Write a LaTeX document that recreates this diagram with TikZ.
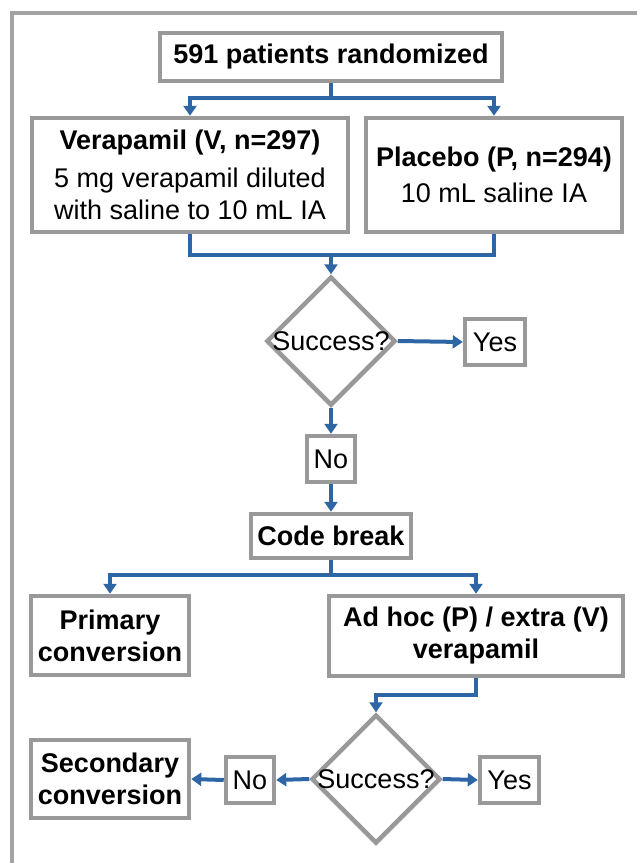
\documentclass[tikz,border=0pt]{standalone}
\usepackage{fontspec}
\setmainfont{Liberation Sans}
\usepackage{tikz}
\usetikzlibrary{shapes.geometric,arrows.meta}
\definecolor{boxgray}{RGB}{153,153,153}
\definecolor{framegray}{RGB}{163,163,163}
\definecolor{flowblue}{RGB}{46,101,165}

\begin{document}
\begin{tikzpicture}[x=1pt,y=-1pt,
		every node/.style={font=\fontsize{27}{32}\selectfont},
		box/.style={draw=boxgray, line width=4.5pt, fill=white, inner sep=0pt, align=center},
		decision/.style={draw=boxgray, line width=4.5pt, diamond, aspect=1, inner sep=0pt, minimum width=129pt, minimum height=129pt},
		link/.style={draw=flowblue, line width=4pt},
		arrow/.style={link, -{Triangle[length=10pt,width=13pt]}}]
			\useasboundingbox (0,0) rectangle (637,863);
			\clip (0,0) rectangle (637,863);
			\draw[framegray, line width=3.5pt] (12,880) -- (12,13) -- (660,13);
			\node[box, minimum width=342pt, minimum height=48pt] (rand) at (331,57) {\textbf{591 patients randomized}};
			\node[box, minimum width=316pt, minimum height=114pt] (verap) at (190,175) {\textbf{Verapamil (V, n=297)}\\[6pt]5 mg verapamil diluted\\with saline to 10 mL IA};
			\node[box, minimum width=256pt, minimum height=114pt] (placebo) at (494,175) {\textbf{Placebo (P, n=294)}\\[4pt]10 mL saline IA};
			\node[decision, label=center:{Success?}] (dia1) at (331,341) {};
			\node[box, minimum width=60pt, minimum height=46pt] (yes1) at (495,342) {Yes};
			\node[box, minimum width=48pt, minimum height=46pt] (no1) at (331,459) {No};
			\node[box, minimum width=160pt, minimum height=44pt] (codebreak) at (331,536) {\textbf{Code break}};
			\node[box, minimum width=158pt, minimum height=79pt] (primary) at (110,635.5) {\textbf{Primary}\\\textbf{conversion}};
			\node[box, minimum width=294pt, minimum height=80pt] (adhoc) at (476,636) {\textbf{Ad hoc (P) / extra (V)}\\\textbf{verapamil}};
			\node[decision, label=center:{Success?}] (dia2) at (376,779) {};
			\node[box, minimum width=59pt, minimum height=46pt] (yes2) at (509.5,780) {Yes};
			\node[box, minimum width=48pt, minimum height=46pt] (no2) at (250,780) {No};
			\node[box, minimum width=158pt, minimum height=78pt] (secondary) at (110,779) {\textbf{Secondary}\\\textbf{conversion}};
			\coordinate (split) at (331,98);
			\coordinate (merge) at (331,255);
			\coordinate (split2) at (331,575);
			\draw[link] (rand.south) -- (split);
			\draw[arrow] (split) -| (verap.north);
			\draw[arrow] (split) -| (placebo.north);
			\draw[link] (verap.south) |- (merge) -| (placebo.south);
			\draw[arrow] (merge) -- (dia1.north);
			\draw[arrow] (dia1.east) -- (yes1.west);
			\draw[arrow] (dia1.south) -- (no1.north);
			\draw[arrow] (no1.south) -- (codebreak.north);
			\draw[link] (codebreak.south) -- (split2);
			\draw[arrow] (split2) -| (primary.north);
			\draw[arrow] (split2) -| (adhoc.north);
			\draw[arrow] (adhoc.south) -- ++(0,17) -| (dia2.north);
			\draw[arrow] (dia2.west) -- (no2.east);
			\draw[arrow] (no2.west) -- (secondary.east);
			\draw[arrow] (dia2.east) -- (yes2.west);
		\end{tikzpicture}
\end{document}
